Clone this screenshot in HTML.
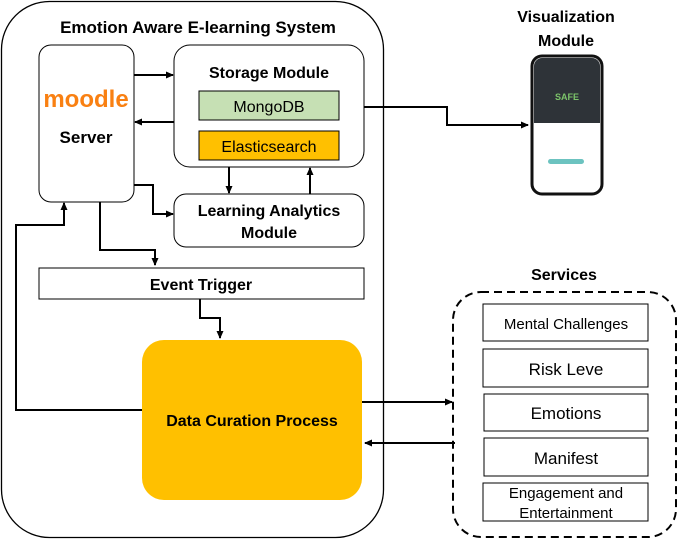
<!DOCTYPE html>
<html><head><meta charset="utf-8"><style>
body{margin:0;background:#fff}
svg text{font-family:"Liberation Sans",sans-serif}
</style></head><body>
<svg width="685" height="540" viewBox="0 0 685 540" xmlns="http://www.w3.org/2000/svg">
<defs><marker id="a" markerWidth="8" markerHeight="8" refX="7" refY="4" orient="auto" markerUnits="userSpaceOnUse"><path d="M0,0.5 L8,4 L0,7.5z" fill="#000"/></marker></defs>
<rect x="1.5" y="1.5" width="382" height="536" rx="48" fill="#fff" stroke="#000" stroke-width="1.3"/>
<text x="198" y="33" font-size="17" font-weight="bold" text-anchor="middle">Emotion Aware E-learning System</text>
<rect x="39" y="45" width="95" height="157" rx="12" fill="#fff" stroke="#000"/>
<text x="86" y="107" font-size="24" font-weight="bold" fill="#f98012" text-anchor="middle">moodle</text>
<text x="86" y="143" font-size="17" font-weight="bold" text-anchor="middle">Server</text>
<rect x="174" y="45" width="190" height="122" rx="16" fill="#fff" stroke="#000"/>
<text x="269" y="78" font-size="16" font-weight="bold" text-anchor="middle">Storage Module</text>
<rect x="199" y="91" width="140" height="29" fill="#c6e0b4" stroke="#000"/>
<text x="269" y="112" font-size="16" text-anchor="middle">MongoDB</text>
<rect x="199" y="131" width="140" height="29" fill="#ffc000" stroke="#000"/>
<text x="269" y="152" font-size="16" text-anchor="middle">Elasticsearch</text>
<rect x="174" y="194" width="190" height="53" rx="12" fill="#fff" stroke="#000"/>
<text x="269" y="216" font-size="16" font-weight="bold" text-anchor="middle">Learning Analytics</text>
<text x="269" y="238" font-size="16" font-weight="bold" text-anchor="middle">Module</text>
<rect x="39" y="268" width="325" height="31" fill="#fff" stroke="#000"/>
<text x="201" y="290" font-size="16" font-weight="bold" text-anchor="middle">Event Trigger</text>
<rect x="142" y="340" width="220" height="160" rx="22" fill="#ffc000"/>
<text x="252" y="426" font-size="16" font-weight="bold" text-anchor="middle">Data Curation Process</text>
<text x="564" y="280" font-size="16" font-weight="bold" text-anchor="middle">Services</text>
<rect x="453" y="292" width="223" height="245" rx="28" fill="none" stroke="#000" stroke-width="2" stroke-dasharray="8,5"/>
<g fill="#fff" stroke="#000"><rect x="483" y="304" width="165" height="37"/><rect x="483" y="349" width="165" height="38"/><rect x="484" y="394" width="164" height="37"/><rect x="484" y="438" width="164" height="38"/><rect x="483" y="483" width="165" height="38"/></g>
<g font-size="15" text-anchor="middle"><text x="566" y="329">Mental Challenges</text><text x="566" y="375" font-size="17">Risk Leve</text><text x="566" y="419" font-size="17">Emotions</text><text x="566" y="464" font-size="17">Manifest</text><text x="566" y="498">Engagement and</text><text x="566" y="518">Entertainment</text></g>
<text x="566" y="22" font-size="16" font-weight="bold" text-anchor="middle">Visualization</text>
<text x="566" y="46" font-size="16" font-weight="bold" text-anchor="middle">Module</text>
<rect x="532" y="56" width="70" height="138" rx="10" fill="#fff" stroke="#111" stroke-width="3"/>
<path d="M534,66 a8,8 0 0 1 8,-8 h50 a8,8 0 0 1 8,8 v57 h-66z" fill="#2e3338"/>
<text x="567" y="100" font-size="9" font-weight="bold" fill="#7cc46a" text-anchor="middle">SAFE</text>
<rect x="548" y="159" width="36" height="5" rx="2.5" fill="#6cc3c0"/>
<g fill="none" stroke="#000" stroke-width="2" marker-end="url(#a)">
<path d="M134,75 H173"/><path d="M174,122 H135"/><path d="M229,167 V193"/><path d="M310,194 V168"/>
<path d="M134,185 H153 V214 H173"/><path d="M100,202 V250 H155 V265"/><path d="M200,299 V318 H220 V338"/>
<path d="M142,410 H16 V225 H64 V203"/><path d="M364,107 H447 V125 H528"/>
<path d="M362,402 H452"/><path d="M455,443 H365"/>
</g>
</svg>
</body></html>
